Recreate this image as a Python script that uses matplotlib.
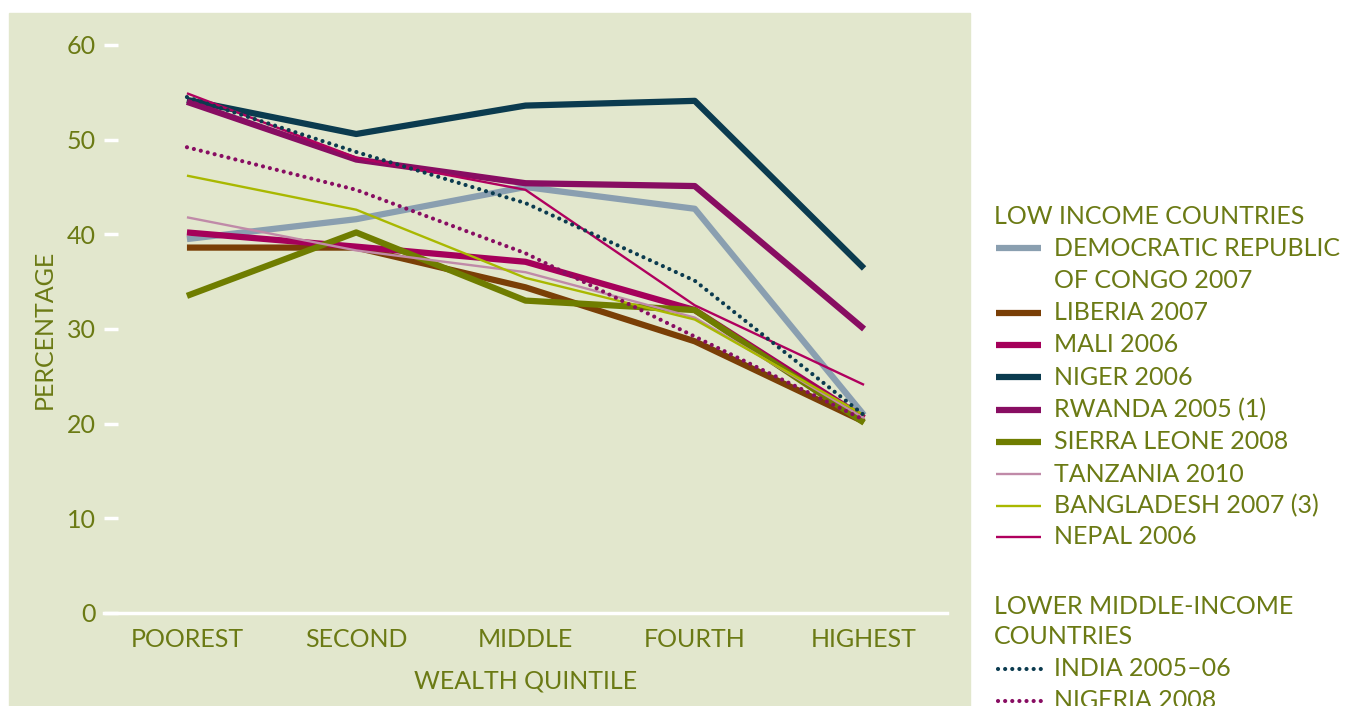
import matplotlib.pyplot as plt
from matplotlib.lines import Line2D
from matplotlib.patches import Rectangle

plt.rcParams['font.family'] = ['Lato', 'DejaVu Sans']

quintiles = ['POOREST', 'SECOND', 'MIDDLE', 'FOURTH', 'HIGHEST']

drc = [39.5, 41.6, 45.0, 42.7, 20.9]
liberia = [38.6, 38.6, 34.4, 28.7, 20.2]
mali = [40.2, 38.7, 37.1, 32.0, 20.6]
niger = [54.2, 50.6, 53.6, 54.1, 36.4]
rwanda = [54.0, 47.9, 45.4, 45.1, 30.0]
sierra_leone = [33.5, 40.2, 33.0, 32.0, 20.1]
tanzania = [41.8, 38.3, 36.0, 31.2, 20.6]
bangladesh = [46.2, 42.6, 35.4, 31.0, 20.9]
nepal = [54.9, 48.1, 44.7, 32.5, 24.1]
india = [54.5, 48.7, 43.3, 35.1, 20.9]
nigeria = [49.2, 44.7, 38.0, 29.2, 20.4]

txt = '#6b7a14'
bg = '#e2e7cd'
fs = 18

low_income = [
    ('DEMOCRATIC REPUBLIC\nOF CONGO 2007', drc, '#8a9fb0', 4.5, '-'),
    ('LIBERIA 2007', liberia, '#7a3f06', 4.5, '-'),
    ('MALI 2006', mali, '#a5005a', 4.5, '-'),
    ('NIGER 2006', niger, '#0b3b4f', 4.5, '-'),
    ('RWANDA 2005 (1)', rwanda, '#880d62', 4.5, '-'),
    ('SIERRA LEONE 2008', sierra_leone, '#6f7d00', 4.5, '-'),
    ('TANZANIA 2010', tanzania, '#c08aa8', 1.7, '-'),
    ('BANGLADESH 2007 (3)', bangladesh, '#a9b800', 1.7, '-'),
    ('NEPAL 2006', nepal, '#b0005e', 1.7, '-'),
]
lower_middle = [
    ('INDIA 2005\u201306', india, '#0b3b4f', 3.0, (0, (0.01, 1.7))),
    ('NIGERIA 2008', nigeria, '#880d62', 3.0, (0, (0.01, 1.7))),
]

fig = plt.figure(figsize=(13.46, 7.06), dpi=100)
fig.patches.append(Rectangle((9 / 1346, 0), 961 / 1346, 693 / 706,
                             transform=fig.transFigure, color=bg, zorder=-5))

ax = fig.add_axes([104 / 1346, 93 / 706, 843 / 1346, 568 / 706])
ax.set_facecolor('none')
x = range(len(quintiles))
for name, vals, col, lw, ls in low_income + lower_middle:
    ax.plot(x, vals, color=col, lw=lw, ls=ls, solid_capstyle='butt',
            dash_capstyle='round', clip_on=False)

ax.set_xlim(-0.49, 4.49)
ax.set_ylim(0, 60)
ax.set_yticks(range(0, 61, 10))
ax.set_xticks(list(x))
ax.set_xticklabels(quintiles)
for s in ['top', 'right', 'left']:
    ax.spines[s].set_visible(False)
ax.spines['bottom'].set_color('white')
ax.spines['bottom'].set_linewidth(2.5)
ax.tick_params(axis='y', direction='in', length=10, width=2.5, color='white',
               labelcolor=txt, labelsize=fs, pad=6)
ax.tick_params(axis='x', length=0, labelcolor=txt, labelsize=fs, pad=11)
ax.set_xlabel('WEALTH QUINTILE', color=txt, fontsize=fs, labelpad=13)
ax.set_ylabel('PERCENTAGE', color=txt, fontsize=fs, labelpad=8)

# legend drawn by hand so it runs off the bottom edge like the original
W, H = 1346, 706


def fy(py):
    return 1 - py / H


fig.text(994 / W, fy(217), 'LOW INCOME COUNTRIES', color=txt, fontsize=fs,
         va='center', ha='left')
rows = [248, 313, 345, 377, 410, 442, 474, 506, 537]
for (name, vals, col, lw, ls), py in zip(low_income, rows):
    fig.add_artist(Line2D([996 / W, 1041 / W], [fy(py), fy(py)], color=col,
                          lw=lw, ls=ls, transform=fig.transFigure,
                          solid_capstyle='butt'))
    lines = name.split('\n')
    for i, t in enumerate(lines):
        fig.text(1054 / W, fy(py + i * 32), t, color=txt, fontsize=fs,
                 va='center', ha='left')

fig.text(994 / W, fy(606), 'LOWER MIDDLE-INCOME', color=txt, fontsize=fs,
         va='center', ha='left')
fig.text(994 / W, fy(637), 'COUNTRIES', color=txt, fontsize=fs,
         va='center', ha='left')
for (name, vals, col, lw, ls), py in zip(lower_middle, [669, 701]):
    fig.add_artist(Line2D([998 / W, 1041 / W], [fy(py), fy(py)], color=col,
                          lw=lw, ls=ls, transform=fig.transFigure,
                          dash_capstyle='round'))
    fig.text(1054 / W, fy(py), name, color=txt, fontsize=fs,
             va='center', ha='left')

fig.savefig('out.png', dpi=100, facecolor='white')
